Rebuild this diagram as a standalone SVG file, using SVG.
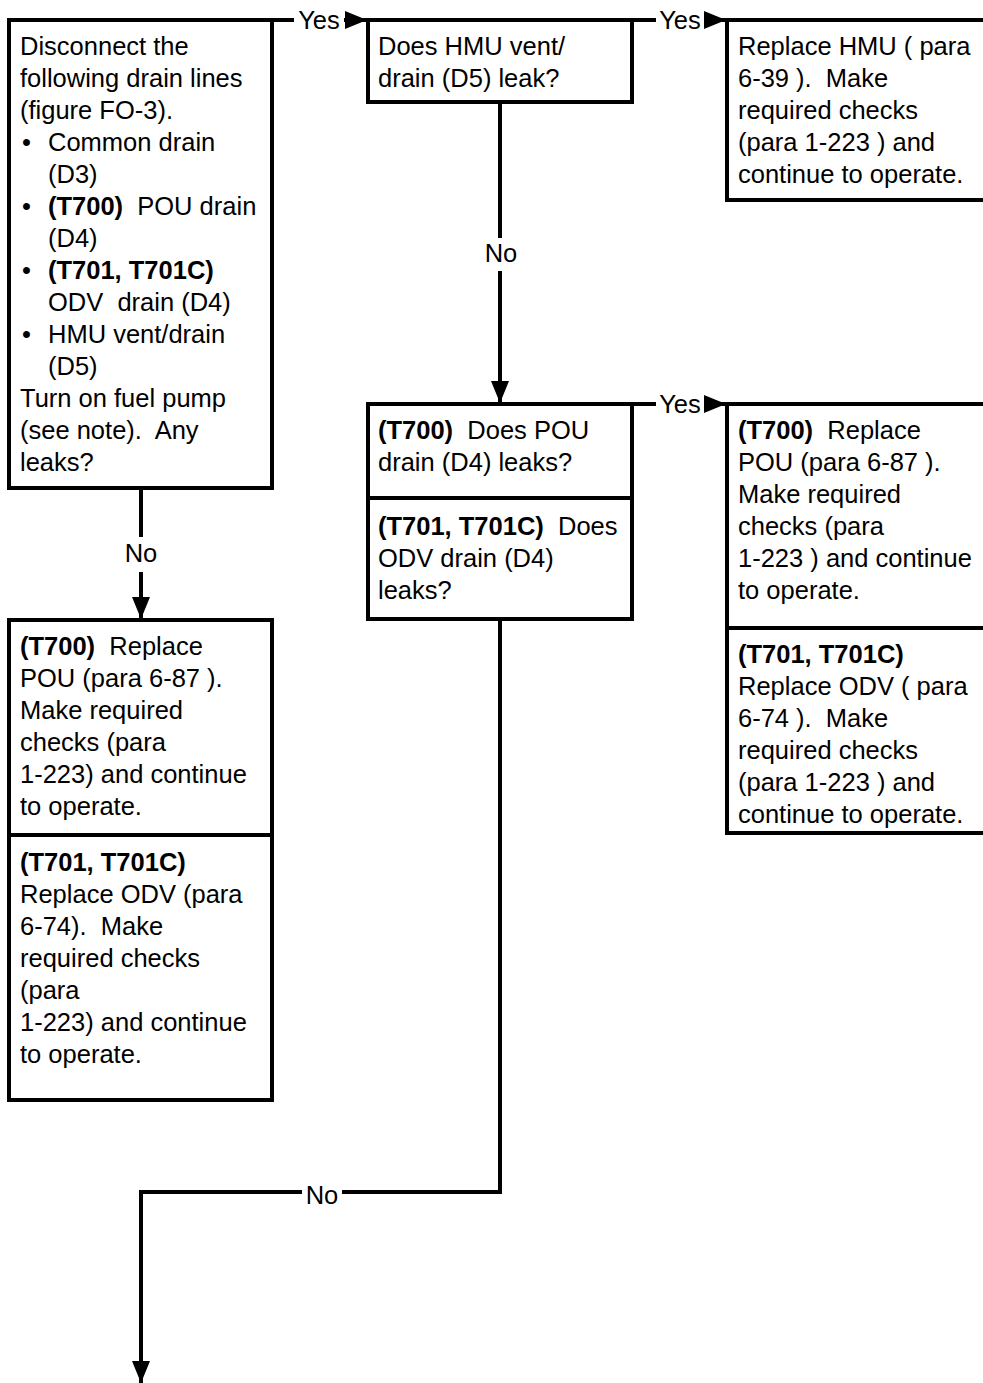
<svg xmlns="http://www.w3.org/2000/svg" width="983" height="1383" viewBox="0 0 983 1383">
  <style>
    .box { fill: #fff; stroke: #000; stroke-width: 4; }
    .div { stroke: #000; stroke-width: 4; }
    .wire { fill: none; stroke: #000; stroke-width: 4; }
    text { font-family: "Liberation Sans", Arial, sans-serif; font-size: 25.5px; fill: #000; white-space: pre; }
    .lbl { text-anchor: middle; }
    .b { font-weight: bold; }
  </style>
  <defs>
    <marker id="arrow" markerUnits="userSpaceOnUse" markerWidth="22" markerHeight="20" viewBox="0 0 22 20" refX="22" refY="10" orient="auto">
      <path d="M0,1 L22,10 L0,19 Z" fill="#000"/>
    </marker>
  </defs>

  <!-- connectors -->
  <g id="connectors">
    <path class="wire" d="M272,20 H294"/>
    <text class="lbl" x="319" y="29">Yes</text>
    <path class="wire" d="M344,20 H367" marker-end="url(#arrow)"/>

    <path class="wire" d="M632,20 H656"/>
    <text class="lbl" x="680" y="29">Yes</text>
    <path class="wire" d="M704,20 H726" marker-end="url(#arrow)"/>

    <path class="wire" d="M500,102 V238"/>
    <text class="lbl" x="501" y="262">No</text>
    <path class="wire" d="M500,271 V403" marker-end="url(#arrow)"/>

    <path class="wire" d="M632,404 H656"/>
    <text class="lbl" x="680" y="413">Yes</text>
    <path class="wire" d="M704,404 H726" marker-end="url(#arrow)"/>

    <path class="wire" d="M141,489 V537"/>
    <text class="lbl" x="141" y="562">No</text>
    <path class="wire" d="M141,572 V619" marker-end="url(#arrow)"/>

    <path class="wire" d="M500,620 V1192 H342"/>
    <text class="lbl" x="322" y="1204">No</text>
    <path class="wire" d="M302,1192 H141 V1383" marker-end="url(#arrow)"/>
  </g>

  <!-- start: disconnect drain lines -->
  <g id="node-disconnect">
    <rect class="box" x="9" y="20" width="263" height="468"/>
    <text x="20" y="55">Disconnect the</text>
    <text x="20" y="87">following drain lines</text>
    <text x="20" y="119">(figure FO-3).</text>
    <text x="22" y="151">•</text><text x="48" y="151">Common drain</text>
    <text x="48" y="183">(D3)</text>
    <text x="22" y="215">•</text><text x="48" y="215"><tspan class="b">(T700)</tspan>  POU drain</text>
    <text x="48" y="247">(D4)</text>
    <text x="22" y="279">•</text><text x="48" y="279" class="b">(T701, T701C)</text>
    <text x="48" y="311">ODV  drain (D4)</text>
    <text x="22" y="343">•</text><text x="48" y="343">HMU vent/drain</text>
    <text x="48" y="375">(D5)</text>
    <text x="20" y="407">Turn on fuel pump</text>
    <text x="20" y="439">(see note).  Any</text>
    <text x="20" y="471">leaks?</text>
  </g>

  <!-- HMU vent/drain question -->
  <g id="node-hmu-leak">
    <rect class="box" x="368" y="20" width="264" height="82"/>
    <text x="378" y="55">Does HMU vent/</text>
    <text x="378" y="87">drain (D5) leak?</text>
  </g>

  <!-- replace HMU -->
  <g id="node-replace-hmu">
    <rect class="box" x="727" y="20" width="280" height="180"/>
    <text x="738" y="55">Replace HMU ( para</text>
    <text x="738" y="87">6-39 ).  Make</text>
    <text x="738" y="119">required checks</text>
    <text x="738" y="151">(para 1-223 ) and</text>
    <text x="738" y="183">continue to operate.</text>
  </g>

  <!-- POU / ODV drain question -->
  <g id="node-pou-odv-leak">
    <rect class="box" x="368" y="404" width="264" height="215"/>
    <line class="div" x1="368" y1="498" x2="632" y2="498"/>
    <text x="378" y="439"><tspan class="b">(T700)</tspan>  Does POU</text>
    <text x="378" y="471">drain (D4) leaks?</text>
    <text x="378" y="535"><tspan class="b">(T701, T701C)</tspan>  Does</text>
    <text x="378" y="567">ODV drain (D4)</text>
    <text x="378" y="599">leaks?</text>
  </g>

  <!-- replace POU / ODV (right) -->
  <g id="node-replace-pou-odv-right">
    <rect class="box" x="727" y="404" width="280" height="429"/>
    <line class="div" x1="727" y1="628" x2="1007" y2="628"/>
    <text x="738" y="439"><tspan class="b">(T700)</tspan>  Replace</text>
    <text x="738" y="471">POU (para 6-87 ).</text>
    <text x="738" y="503">Make required</text>
    <text x="738" y="535">checks (para</text>
    <text x="738" y="567">1-223 ) and continue</text>
    <text x="738" y="599">to operate.</text>
    <text x="738" y="663" class="b">(T701, T701C)</text>
    <text x="738" y="695">Replace ODV ( para</text>
    <text x="738" y="727">6-74 ).  Make</text>
    <text x="738" y="759">required checks</text>
    <text x="738" y="791">(para 1-223 ) and</text>
    <text x="738" y="823">continue to operate.</text>
  </g>

  <!-- replace POU / ODV (left) -->
  <g id="node-replace-pou-odv-left">
    <rect class="box" x="9" y="620" width="263" height="480"/>
    <line class="div" x1="9" y1="835" x2="272" y2="835"/>
    <text x="20" y="655"><tspan class="b">(T700)</tspan>  Replace</text>
    <text x="20" y="687">POU (para 6-87 ).</text>
    <text x="20" y="719">Make required</text>
    <text x="20" y="751">checks (para</text>
    <text x="20" y="783">1-223) and continue</text>
    <text x="20" y="815">to operate.</text>
    <text x="20" y="871" class="b">(T701, T701C)</text>
    <text x="20" y="903">Replace ODV (para</text>
    <text x="20" y="935">6-74).  Make</text>
    <text x="20" y="967">required checks</text>
    <text x="20" y="999">(para</text>
    <text x="20" y="1031">1-223) and continue</text>
    <text x="20" y="1063">to operate.</text>
  </g>
</svg>
